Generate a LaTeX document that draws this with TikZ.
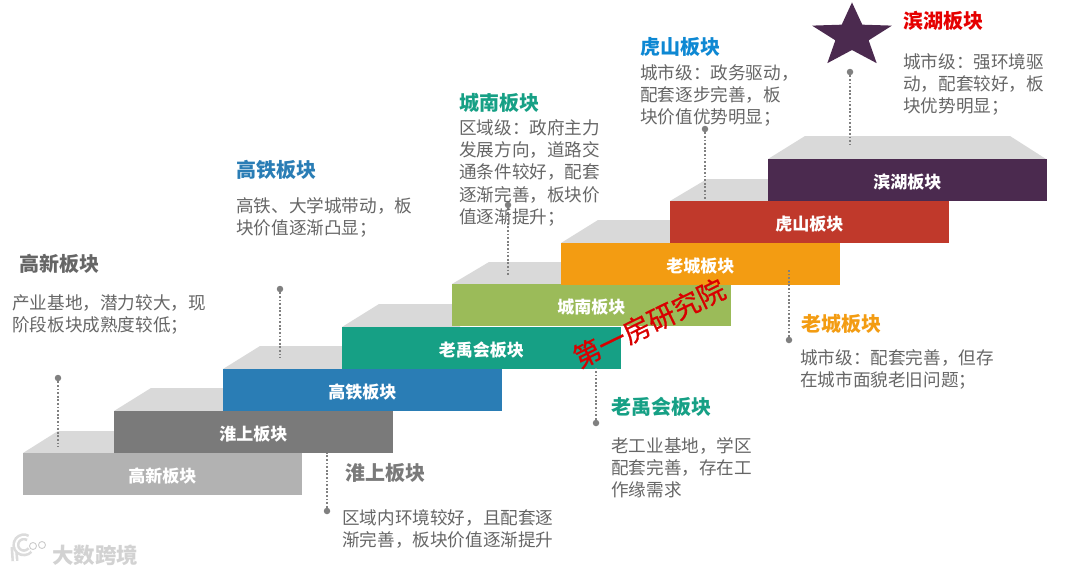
\documentclass[tikz,border=0pt]{standalone}
\usepackage{fontspec}
\usetikzlibrary{shapes.geometric}
\setmainfont{Noto Sans CJK SC}
\newfontfamily\markfont[FakeBold=0.6]{Noto Sans CJK SC}
\definecolor{gxgrey}{HTML}{B2B2B2}
\definecolor{hsgrey}{HTML}{7A7A7A}
\definecolor{gtblue}{HTML}{2A7DB5}
\definecolor{lyteal}{HTML}{16A085}
\definecolor{cngreen}{HTML}{9BBB59}
\definecolor{lcorange}{HTML}{F39C12}
\definecolor{hsred}{HTML}{C0392B}
\definecolor{bhpurple}{HTML}{4B2A4F}
\definecolor{topgrey}{HTML}{D9D9D9}
\definecolor{textgrey}{HTML}{666666}
\tikzset{
  stepbox/.style={anchor=north west, minimum width=278.5pt, minimum height=42pt, inner sep=0pt,
              text height=18pt, text depth=2pt, text=white, font=\fontsize{17}{20}\selectfont\bfseries},
  steptop/.style={fill=topgrey, draw=none},
  head/.style={anchor=west, inner sep=0pt, font=\fontsize{20}{24}\selectfont\bfseries},
  body/.style={anchor=north west, inner sep=0pt, align=left, text=textgrey, font=\fontsize{17.6}{22.3}\selectfont},
  leaddot/.style={circle, fill=gray, inner sep=0pt, minimum size=6.5pt},
  leader/.style={draw=gray, line width=1.9pt, dash pattern=on 1.8pt off 1.8pt},
  logoline/.style={draw=gray!28, double=white, line width=2.6pt, double distance=1.8pt}
}

\begin{document}
\begin{tikzpicture}[x=1pt, y=-1pt]
\useasboundingbox (0,0) rectangle (1080,574);
% step tops
\fill[steptop] (23,453) -- (58,431) -- (120,431) -- (120,453) -- cycle;
\fill[steptop] (114,411) -- (151,388) -- (230,388) -- (230,411) -- cycle;
\fill[steptop] (223,369) -- (260,346) -- (350,346) -- (350,369) -- cycle;
\fill[steptop] (342,327) -- (379,304) -- (460,304) -- (460,327) -- cycle;
\fill[steptop] (452,284) -- (489,262) -- (570,262) -- (570,284) -- cycle;
\fill[steptop] (561,243) -- (598,220) -- (680,220) -- (680,243) -- cycle;
\fill[steptop] (670,201) -- (707,179) -- (775,179) -- (775,201) -- cycle;
\fill[steptop] (768,159) -- (805,136) -- (1010,136) -- (1046,159) -- cycle;
% steps
\node[stepbox, fill=gxgrey] (gaoxin) at (23,453) {高新板块};
\node[stepbox, fill=hsgrey] (huaishang) at (114,411) {淮上板块};
\node[stepbox, fill=gtblue] (gaotie) at (223,369) {高铁板块};
\node[stepbox, fill=lyteal] (laoyuhui) at (342,327) {老禹会板块};
\node[stepbox, fill=cngreen] (chengnan) at (452,284) {城南板块};
\node[stepbox, fill=lcorange] (laocheng) at (561,243) {老城板块};
\node[stepbox, fill=hsred] (hushan) at (670,201) {虎山板块};
\node[stepbox, fill=bhpurple] (binhu) at (768,159) {滨湖板块};
\node[star, star points=5, star point ratio=2.4, fill=bhpurple, inner sep=0pt, minimum size=84pt, yscale=0.8, transform shape] (bhstar) at (852,36) {};
% leaders
\node[leaddot] (dot1) at (58,378) {};
\coordinate (end1) at (58,447);
\node[leaddot] (dot2) at (327,511) {};
\coordinate (end2) at (327,453);
\node[leaddot] (dot3) at (280,289) {};
\coordinate (end3) at (280,358);
\node[leaddot] (dot4) at (596,423) {};
\coordinate (end4) at (596,368);
\node[leaddot] (dot5) at (508,205) {};
\coordinate (end5) at (508,275);
\node[leaddot] (dot6) at (789,340) {};
\coordinate (end6) at (789,270);
\node[leaddot] (dot7) at (705,129) {};
\coordinate (end7) at (705,199);
\node[leaddot] (dot8) at (850,72) {};
\coordinate (end8) at (850,145);
\draw[leader] (dot1) -- (end1);
\draw[leader] (dot2) -- (end2);
\draw[leader] (dot3) -- (end3);
\draw[leader] (dot4) -- (end4);
\draw[leader] (dot5) -- (end5);
\draw[leader] (dot6) -- (end6);
\draw[leader] (dot7) -- (end7);
\draw[leader] (dot8) -- (end8);
% labels
\node[head, text=textgrey] (gxhead) at (19,264) {高新板块};
\node[body] (gxbody) at (12,294) {产业基地，潜力较大，现\\阶段板块成熟度较低；};
\node[head, text=gtblue] (gthead) at (236,170) {高铁板块};
\node[body] (gtbody) at (236,197) {高铁、大学城带动，板\\块价值逐渐凸显；};
\node[head, text=lyteal] (cnhead) at (459,103) {城南板块};
\node[body] (cnbody) at (459,119) {区域级：政府主力\\发展方向，道路交\\通条件较好，配套\\逐渐完善，板块价\\值逐渐提升；};
\node[head, text=cyan!70!blue] (hshead) at (640,47) {虎山板块};
\node[body] (hsbody) at (640,64) {城市级：政务驱动，\\配套逐步完善，板\\块价值优势明显；};
\node[head, text=red!90!black] (bhhead) at (903,21) {滨湖板块};
\node[body] (bhbody) at (903,53) {城市级：强环境驱\\动，配套较好，板\\块优势明显；};
\node[head, text=lcorange] (lchead) at (801,324) {老城板块};
\node[body] (lcbody) at (800,349) {城市级：配套完善，但存\\在城市面貌老旧问题；};
\node[head, text=lyteal] (lyhead) at (611,407) {老禹会板块};
\node[body] (lybody) at (611,437) {老工业基地，学区\\配套完善，存在工\\作缘需求};
\node[head, text=hsgrey] (hhhead) at (345,473) {淮上板块};
\node[body] (hhbody) at (342,509) {区域内环境较好，且配套逐\\渐完善，板块价值逐渐提升};
% watermarks
\node[rotate=26, inner sep=0pt, text=red!85!black, font=\fontsize{27.5}{30}\markfont] (mark) at (649,323) {第一房研究院};
\node[anchor=west, inner sep=0pt, text=gray!35, font=\fontsize{21.5}{24}\selectfont\bfseries] (logotext) at (52,555) {大数跨境};
\draw[logoline] (14,547) -- (15,561);
\draw[logoline] (30,550) arc (40:300:8);
\draw[draw=gray!40, line width=0.9pt] (33,546) circle (3.5pt) (42,545) circle (3.5pt);
\end{tikzpicture}
\end{document}
